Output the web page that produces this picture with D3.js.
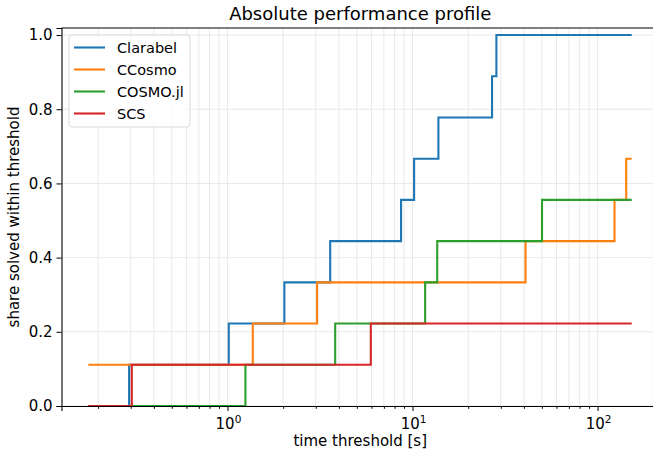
<!DOCTYPE html>
<html>
<head>
<meta charset="utf-8">
<script src="https://cdn.jsdelivr.net/npm/d3@7"></script>
<style>
  body { margin: 0; background: #fff; }
  svg { display: block; font-family: "DejaVu Sans", sans-serif; }
</style>
</head>
<body>
<svg></svg>
<script>
// SOLVERS
var solvers = ['Clarabel', 'CCosmo', 'COSMO.jl', 'SCS'];
var colors = ['#1f77b4', '#ff7f0e', '#2ca02c', '#d62728'];

// step thresholds [s] and share solved from that threshold on
var clarabelT = [0.177, 0.294, 1.016, 2.03, 3.59, 8.67, 10.2, 13.8, 26.9, 28.4, 153];
var clarabelS = [0, 0.1111, 0.2222, 0.3333, 0.4444, 0.5556, 0.6667, 0.7778, 0.8889, 1.0, 1.0];

var ccosmoT = [0.177, 1.37, 3.05, 40.8, 123.5, 142.8, 153];
var ccosmoS = [0.1111, 0.2222, 0.3333, 0.4444, 0.5556, 0.6667, 0.6667];

var cosmojlT = [0.177, 1.25, 3.82, 11.7, 13.6, 50.1, 153];
var cosmojlS = [0, 0.1111, 0.2222, 0.3333, 0.4444, 0.5556, 0.5556];

var scsT = [0.177, 0.304, 5.95, 153];
var scsS = [0, 0.1111, 0.2222, 0.2222];

var yTicks = [0, 0.2, 0.4, 0.6, 0.8, 1.0];
var xTicks = [1, 10, 100];

//SVG SETUP
var W = 653, H = 452;
var pLeft = 61.5, pRight = 659, pTop = 28, pBottom = 406;

var svg = d3.select('svg')
    .attr('width', W)
    .attr('height', H);

var xScale = d3.scaleLog()
    .domain([Math.pow(10, -0.897), Math.pow(10, 2.332)])
    .range([pLeft, pRight]);

var yScale = d3.scaleLinear()
    .domain([0, 1.019])
    .range([pBottom, pTop]);

//GRID
var minorTicks = [];
[0.1, 1, 10, 100].forEach(function(dec) {
    for (var k = 1; k < 10; k++) {
        var v = dec * k;
        if (v >= xScale.domain()[0] && v <= xScale.domain()[1]) minorTicks.push(v);
    }
});

var grid = svg.append('g');
grid.selectAll('.xg')
    .data(minorTicks)
    .enter().append('line')
    .attr('x1', d => xScale(d)).attr('x2', d => xScale(d))
    .attr('y1', pTop).attr('y2', pBottom)
    .attr('stroke', '#e6e6e6')
    .attr('stroke-width', 0.9);

grid.selectAll('.yg')
    .data(yTicks)
    .enter().append('line')
    .attr('x1', pLeft).attr('x2', pRight)
    .attr('y1', d => yScale(d)).attr('y2', d => yScale(d))
    .attr('stroke', '#e6e6e6')
    .attr('stroke-width', 0.9);

//LINES
var series = [
    {T: clarabelT, S: clarabelS},
    {T: ccosmoT, S: ccosmoS},
    {T: cosmojlT, S: cosmojlS},
    {T: scsT, S: scsS}
];

var line = d3.line()
    .x(d => xScale(d[0]))
    .y(d => yScale(d[1]))
    .curve(d3.curveStepAfter);

series.forEach(function(s, i) {
    var pts = s.T.map((t, j) => [t, s.S[j]]);
    svg.append('path')
        .datum(pts)
        .attr('d', line)
        .attr('fill', 'none')
        .attr('stroke', colors[i])
        .attr('stroke-width', 2.1);
});

//AXES
var xAxis = d3.axisBottom(xScale)
    .tickValues(xTicks)
    .tickSize(5)
    .tickFormat('');
var xAxisG = svg.append('g')
    .attr('transform', 'translate(0,' + pBottom + ')')
    .call(xAxis);
xAxisG.select('.domain').attr('stroke', '#000').attr('stroke-width', 1.1);

var xMinor = d3.axisBottom(xScale)
    .tickValues(minorTicks.filter(d => xTicks.indexOf(d) < 0))
    .tickSize(2.8)
    .tickFormat('');
svg.append('g')
    .attr('transform', 'translate(0,' + pBottom + ')')
    .call(xMinor)
    .call(g => g.select('.domain').remove());

// 10^n labels
var xLab = svg.append('g');
xTicks.forEach(function(v) {
    var t = xLab.append('text')
        .attr('x', xScale(v) + 1)
        .attr('y', pBottom + 23)
        .attr('text-anchor', 'middle')
        .attr('font-size', 15)
        .attr('fill', '#000');
    t.append('tspan').text('10');
    t.append('tspan').attr('dy', -6.5).attr('font-size', 10.5).text(Math.round(Math.log10(v)));
});

var yAxis = d3.axisLeft(yScale)
    .tickValues(yTicks)
    .tickSize(5)
    .tickPadding(4)
    .tickFormat(d3.format('.1f'));
var yAxisG = svg.append('g')
    .attr('transform', 'translate(' + pLeft + ',0)')
    .call(yAxis);
yAxisG.selectAll('text').attr('font-size', 15).attr('fill', '#000')
    .attr('font-family', '"DejaVu Sans", sans-serif');
yAxisG.select('.domain').attr('stroke', '#000').attr('stroke-width', 1.1);

// top spine
svg.append('line')
    .attr('x1', pLeft).attr('x2', pRight)
    .attr('y1', pTop).attr('y2', pTop)
    .attr('stroke', '#000').attr('stroke-width', 1.1);

//TITLES
svg.append('text')
    .text('Absolute performance profile')
    .attr('x', (pLeft + pRight) / 2)
    .attr('y', 20)
    .attr('text-anchor', 'middle')
    .attr('font-size', 18);

svg.append('text')
    .text('time threshold [s]')
    .attr('x', (pLeft + pRight) / 2)
    .attr('y', 446)
    .attr('text-anchor', 'middle')
    .attr('font-size', 15);

svg.append('text')
    .text('share solved within threshold')
    .attr('transform', 'translate(19,' + (pTop + pBottom) / 2 + ') rotate(-90)')
    .attr('text-anchor', 'middle')
    .attr('font-size', 15);

//LEGEND
var legend = svg.append('g')
    .attr('transform', 'translate(69, 35)');

legend.append('rect')
    .attr('width', 121)
    .attr('height', 92)
    .attr('rx', 3)
    .attr('fill', '#fff')
    .attr('fill-opacity', 0.8)
    .attr('stroke', '#d9d9d9');

solvers.forEach(function(name, i) {
    var ly = 12.5 + i * 22;
    legend.append('line')
        .attr('x1', 5).attr('x2', 36)
        .attr('y1', ly).attr('y2', ly)
        .attr('stroke', colors[i])
        .attr('stroke-width', 2.1);
    legend.append('text')
        .text(name)
        .attr('x', 48)
        .attr('y', ly + 5.5)
        .attr('font-size', 14.5);
});
</script>
</body>
</html>
